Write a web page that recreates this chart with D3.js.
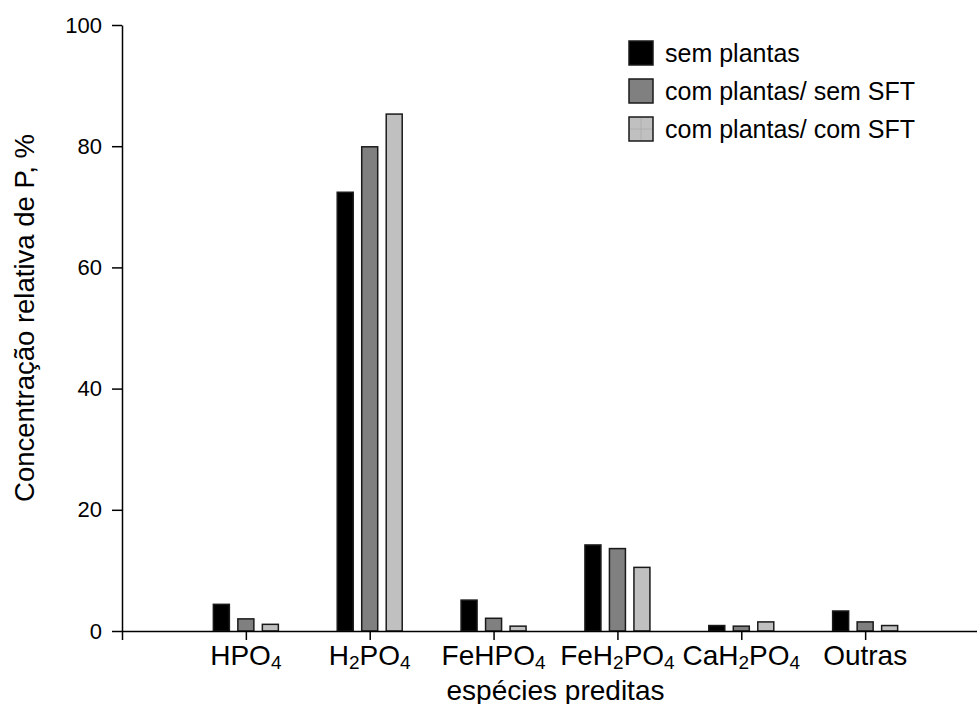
<!DOCTYPE html>
<html>
<head>
<meta charset="utf-8">
<script src="https://cdn.jsdelivr.net/npm/d3@7"></script>
<style>
  body { margin: 0; background: #fff; }
  svg { display: block; }
  text { font-family: "Liberation Sans", Arial, Helvetica, sans-serif; fill: #000; }
</style>
</head>
<body>
<svg id="chart" width="977" height="704"></svg>
<script>
// Predicted P species (digits are drawn as subscripts)
const categories = ["HPO4", "H2PO4", "FeHPO4", "FeH2PO4", "CaH2PO4", "Outras"];
const seriesNames = ["sem plantas", "com plantas/ sem SFT", "com plantas/ com SFT"];
const semPlantas       = [4.4, 72.4, 5.1, 14.2, 0.9, 3.3];
const comPlantasSemSFT = [2.0, 79.9, 2.1, 13.6, 0.8, 1.5];
const comPlantasComSFT = [1.1, 85.3, 0.8, 10.5, 1.5, 0.9];
const yTicks = [0, 20, 40, 60, 80, 100];
const yTitle = "Concentração relativa de P, %";
const xTitle = "espécies preditas";

const seriesValues = [semPlantas, comPlantasSemSFT, comPlantasComSFT];
const fills = ["#000000", "#808080", "#c0c0c0"];

const svg = d3.select("#chart");

// category i sits at position i+1; position 0 is the y axis
const x = d3.scaleLinear().domain([0, categories.length + 1]).range([122, 989]);
const y = d3.scaleLinear().domain([0, 100]).range([631, 25]);
const inner = d3.scaleBand().domain(d3.range(seriesNames.length))
  .range([-32.5, 32.5]).paddingInner(0.347).paddingOuter(0);

// bars
const groups = svg.append("g").selectAll("g")
  .data(categories)
  .join("g")
  .attr("transform", (d, i) => `translate(${x(i + 1)},0)`);

groups.selectAll("rect")
  .data((d, i) => seriesValues.map((vals, s) => ({ s, v: vals[i] })))
  .join("rect")
  .attr("x", d => inner(d.s))
  .attr("width", inner.bandwidth())
  .attr("y", d => y(d.v))
  .attr("height", d => y(0) - y(d.v))
  .attr("fill", d => fills[d.s])
  .attr("stroke", "#1a1a1a")
  .attr("stroke-width", 1.5);

// y axis
const yAxis = svg.append("g")
  .attr("transform", `translate(${x(0)},0)`)
  .call(d3.axisLeft(y).tickValues(yTicks).tickSize(10).tickSizeOuter(0).tickPadding(10));
yAxis.attr("font-size", 22).attr("font-family", null);
yAxis.selectAll("text").attr("font-size", 22);
yAxis.selectAll("path,line").attr("stroke", "#000").attr("stroke-width", 1.5);

// x axis
const xAxis = svg.append("g")
  .attr("transform", `translate(0,${y(0)})`)
  .call(d3.axisBottom(x).tickValues(d3.range(categories.length + 1))
    .tickSize(9).tickSizeOuter(0).tickFormat(""));
xAxis.attr("font-size", 22).attr("font-family", null);
xAxis.selectAll("path,line").attr("stroke", "#000").attr("stroke-width", 1.5);

// category labels with subscript digits
const labels = svg.append("g").selectAll("text")
  .data(categories)
  .join("text")
  .attr("x", (d, i) => x(i + 1))
  .attr("y", 665)
  .attr("text-anchor", "middle")
  .attr("font-size", 28);

labels.each(function (d) {
  const t = d3.select(this);
  let lowered = false;
  d.match(/\d+|\D+/g).forEach(part => {
    const span = t.append("tspan").text(part);
    if (/^\d+$/.test(part)) {
      span.attr("font-size", 19).attr("dy", 4);
      lowered = true;
    } else {
      span.attr("font-size", 28);
      if (lowered) { span.attr("dy", -4); lowered = false; }
    }
  });
});

// axis titles
svg.append("text")
  .attr("x", (x(0) + x(categories.length + 1)) / 2)
  .attr("y", 700)
  .attr("text-anchor", "middle")
  .attr("font-size", 28)
  .text(xTitle);

svg.append("text")
  .attr("transform", "translate(34,318) rotate(-90)")
  .attr("text-anchor", "middle")
  .attr("font-size", 27.5)
  .text(yTitle);

// legend
const legend = svg.append("g").attr("transform", "translate(629,41)");
const items = legend.selectAll("g")
  .data(seriesNames)
  .join("g")
  .attr("transform", (d, i) => `translate(0,${i * 38})`);

items.append("rect")
  .attr("width", 24).attr("height", 24)
  .attr("fill", (d, i) => fills[i])
  .attr("stroke", "#1a1a1a")
  .attr("stroke-width", 1.5);

// faint hatch cross on the light swatch
items.filter((d, i) => i === 2).append("path")
  .attr("d", "M12,1V23M1,12H23")
  .attr("stroke", "#ababab")
  .attr("stroke-width", 0.8);

items.append("text")
  .attr("x", 36)
  .attr("y", 21)
  .attr("font-size", 25)
  .text(d => d);
</script>
</body>
</html>
